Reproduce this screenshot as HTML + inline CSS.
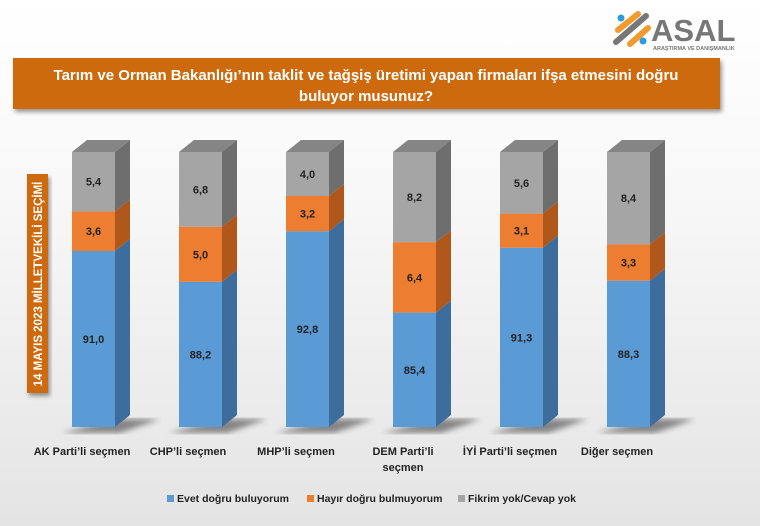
<!DOCTYPE html>
<html><head><meta charset="utf-8"><style>
body{margin:0;width:760px;height:526px;overflow:hidden;background:linear-gradient(#ffffff 0%,#f7f7f7 40%,#e4e4e4 100%);font-family:"Liberation Sans",sans-serif;}
</style></head><body>
<svg width="760" height="526" xmlns="http://www.w3.org/2000/svg" style="position:absolute;left:0;top:0">
<defs>
<linearGradient id="bl" x1="0" x2="1"><stop offset="0" stop-color="#5a9ad8"/><stop offset="1" stop-color="#5b96d0"/></linearGradient>
<filter id="sh" x="-20%" y="-20%" width="140%" height="140%"><feDropShadow dx="2" dy="3" stdDeviation="2" flood-opacity="0.4"/></filter>
<filter id="bs"><feGaussianBlur stdDeviation="3"/></filter>
</defs>
<!-- logo -->
<g>
<path d="M618 30 L638 14" stroke="#f29a2e" stroke-width="6" stroke-linecap="round"/>
<path d="M616 42 L646 16" stroke="#777" stroke-width="6" stroke-linecap="round"/>
<path d="M630 44 L648 28" stroke="#f29a2e" stroke-width="6" stroke-linecap="round"/>
<circle cx="621" cy="18" r="3.5" fill="#2e9be0"/><circle cx="643" cy="41" r="3.5" fill="#2e9be0"/>
<text x="651" y="41" font-size="31" font-weight="bold" fill="#777" font-family="Liberation Sans">ASAL</text>
<text x="653" y="50" font-size="5.5" font-weight="bold" fill="#777">ARAŞTIRMA VE DANIŞMANLIK</text>
</g>
<!-- title -->
<rect x="13" y="58" width="707" height="51" fill="#cc6a0c" filter="url(#sh)"/>
<text x="366" y="80" font-size="15" font-weight="bold" fill="#fff" text-anchor="middle">Tarım ve Orman Bakanlığı’nın taklit ve tağşiş üretimi yapan firmaları ifşa etmesini doğru</text>
<text x="366" y="101" font-size="15" font-weight="bold" fill="#fff" text-anchor="middle">buluyor musunuz?</text>
<!-- vertical label -->
<rect x="27" y="174" width="21" height="219" fill="#cc6a0c" filter="url(#sh)"/>
<text transform="translate(42,284) rotate(-90)" font-size="11.5" font-weight="bold" fill="#fff" text-anchor="middle">14 MAYIS 2023 MİLLETVEKİLİ SEÇİMİ</text>
<g id="bars"></g>
<!-- category labels -->
<g font-size="11" font-weight="bold" fill="#222" text-anchor="middle">
<text x="82" y="455">AK Parti’li seçmen</text>
<text x="188" y="455">CHP’li seçmen</text>
<text x="296" y="455">MHP’li seçmen</text>
<text x="403" y="455">DEM Parti’li</text>
<text x="403" y="471">seçmen</text>
<text x="510" y="455">İYİ Parti’li seçmen</text>
<text x="617" y="455">Diğer seçmen</text>
</g>
<!-- legend -->
<g font-size="10.5" font-weight="bold" fill="#222">
<rect x="167" y="495" width="7" height="7" fill="#5b9bd5"/><text x="177" y="502">Evet doğru buluyorum</text>
<rect x="307" y="495" width="7" height="7" fill="#ed7d31"/><text x="317" y="502">Hayır doğru bulmuyorum</text>
<rect x="458" y="495" width="7" height="7" fill="#a5a5a5"/><text x="468" y="502">Fikrim yok/Cevap yok</text>
</g>
</svg>
<script>
var data=[[91.0,3.6,5.4],[88.2,5.0,6.8],[92.8,3.2,4.0],[85.4,6.4,8.2],[91.3,3.1,5.6],[88.3,3.3,8.4]];
var xs=[72,179,286,393,500,607];
var cols=[["#5b9bd5","#3d6d9c"],["#ed7d31","#b0581c"],["#a5a5a5","#6e6e6e"]];
var s='';var B=427,W=43,D=15,H=12;
data.forEach(function(d,i){
 var x=xs[i];
 s+='<polygon points="'+(x-10)+','+(B+6)+' '+(x+W+5)+','+(B+6)+' '+(x+W+D+30)+','+(B-8)+' '+(x+W)+','+(B-8)+'" fill="#333" opacity="0.55" filter="url(#bs)"/>';
 var segs=[(d[0]-75)*11,d[1]*11,d[2]*11];var y=B;
 segs.forEach(function(h,k){
  var t=y-h;
  s+='<rect x="'+x+'" y="'+t+'" width="'+W+'" height="'+h+'" fill="'+cols[k][0]+'"/>';
  s+='<polygon points="'+(x+W)+','+y+' '+(x+W+D)+','+(y-H)+' '+(x+W+D)+','+(t-H)+' '+(x+W)+','+t+'" fill="'+cols[k][1]+'"/>';
  s+='<text x="'+(x+W/2)+'" y="'+(t+h/2+4)+'" font-size="11" font-weight="bold" fill="#222" text-anchor="middle">'+d[k].toFixed(1).replace('.',',')+'</text>';
  y=t;
 });
 s+='<polygon points="'+x+','+y+' '+(x+D)+','+(y-H)+' '+(x+W+D)+','+(y-H)+' '+(x+W)+','+y+'" fill="#858585"/>';
});
document.getElementById('bars').innerHTML=s;
</script>
</body></html>
